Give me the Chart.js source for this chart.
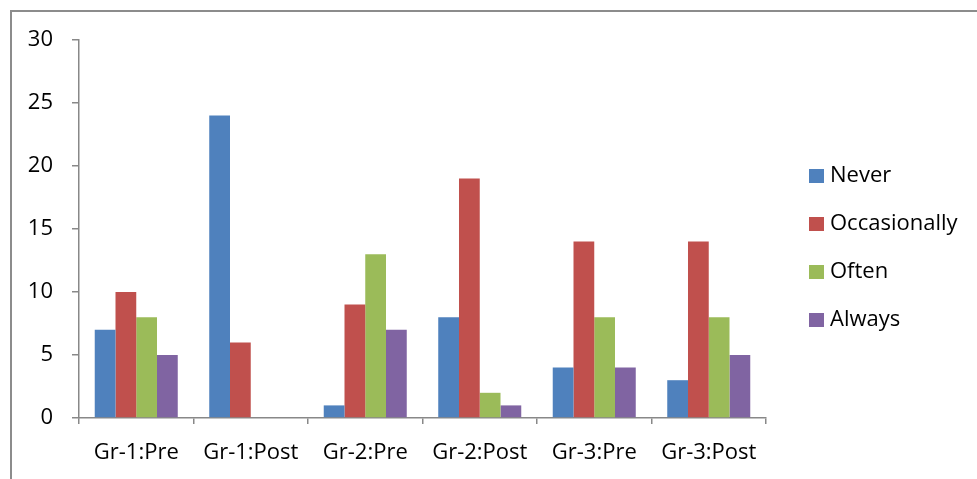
<!DOCTYPE html>
<html>
<head>
<meta charset="utf-8">
<script src="https://cdn.jsdelivr.net/npm/chart.js@4.4.1/dist/chart.umd.min.js"></script>
<style>
  html, body { margin: 0; padding: 0; background: #fff; }
  #wrap { position: relative; width: 977px; height: 479px; overflow: hidden; }
  #frame { position: absolute; left: 10px; top: 10px; width: 980px; height: 500px;
           border-left: 2px solid #8c8c8c; border-top: 2px solid #8c8c8c; box-sizing: border-box; }
  #c { position: absolute; left: 0; top: 0; }
</style>
</head>
<body>
<div id="wrap">
  <div id="frame"></div>
  <canvas id="c" width="977" height="479"></canvas>
</div>
<script>
// Survey responses per group and phase
const categories = ['Gr-1:Pre', 'Gr-1:Post', 'Gr-2:Pre', 'Gr-2:Post', 'Gr-3:Pre', 'Gr-3:Post'];
const never        = [7, 24, 1, 8, 4, 3];
const occasionally = [10, 6, 9, 19, 14, 14];
const often        = [8, 0, 13, 2, 8, 8];
const always       = [5, 0, 7, 1, 4, 5];
const seriesNames  = ['Never', 'Occasionally', 'Often', 'Always'];
const seriesColors = ['#4f81bd', '#c0504d', '#9bbb59', '#8064a2'];
const yTicks = [0, 5, 10, 15, 20, 25, 30];

const FONT = '"Open Sans", "Noto Sans", sans-serif';
const FONT_SIZE = 22;
const AXIS = '#888888';

// Legend drawn to the right of the plot area, one entry per row
const sideLegend = {
  id: 'sideLegend',
  afterDraw(chart) {
    const ctx = chart.ctx;
    const area = chart.chartArea;
    const x0 = area.right + 43;
    const yStart = 176;
    const step = 48;
    ctx.save();
    ctx.font = FONT_SIZE + 'px ' + FONT;
    ctx.textBaseline = 'middle';
    ctx.textAlign = 'left';
    chart.data.datasets.forEach((ds, i) => {
      const y = yStart + i * step;
      ctx.fillStyle = ds.backgroundColor;
      ctx.fillRect(x0, y - 7, 15, 14);
      ctx.fillStyle = '#000';
      ctx.fillText(ds.label, x0 + 21, y);
    });
    ctx.restore();
  }
};

const datasets = [never, occasionally, often, always].map((vals, i) => ({
  label: seriesNames[i],
  data: vals,
  backgroundColor: seriesColors[i],
  borderWidth: 0,
  categoryPercentage: 0.725,
  barPercentage: 1.0
}));

new Chart(document.getElementById('c'), {
  type: 'bar',
  data: { labels: categories, datasets },
  plugins: [sideLegend],
  options: {
    responsive: false,
    animation: false,
    layout: { padding: { left: 10, top: 40, right: 211, bottom: 19 } },
    plugins: { legend: { display: false }, tooltip: { enabled: false } },
    scales: {
      x: {
        grid: { display: true, drawOnChartArea: false, offset: true, color: AXIS, lineWidth: 1.5, tickLength: 6 },
        border: { display: true, color: AXIS, width: 1.5 },
        ticks: { color: '#000', font: { family: FONT, size: FONT_SIZE }, padding: 16, maxRotation: 0 },
        afterFit(s) { s.height = 42; }
      },
      y: {
        min: 0, max: 30,
        afterBuildTicks(s) { s.ticks = yTicks.map(v => ({ value: v })); },
        grid: { display: true, drawOnChartArea: false, color: AXIS, lineWidth: 1.5, tickLength: 7 },
        border: { display: true, color: AXIS, width: 1.5 },
        ticks: { color: '#000', font: { family: FONT, size: FONT_SIZE }, padding: 19 },
        afterFit(s) { s.width = 69; }
      }
    }
  }
});
</script>
</body>
</html>
